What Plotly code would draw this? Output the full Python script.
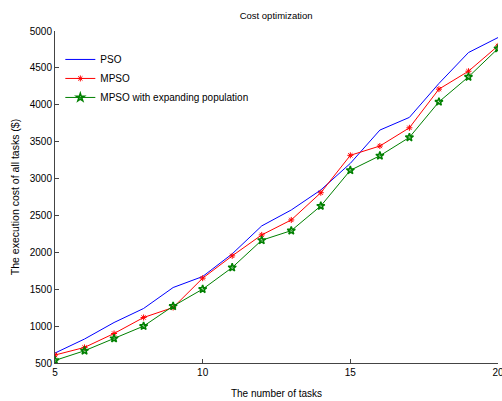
"""Cost optimization: execution cost of PSO variants vs number of tasks."""
import plotly.graph_objects as go

tasks = list(range(5, 21))
pso = [635, 825, 1049, 1239, 1523, 1672, 1979, 2358, 2574, 2845, 3206, 3657, 3829, 4289, 4708, 4911]
mpso = [608, 711, 900, 1117, 1252, 1650, 1952, 2236, 2439, 2808, 3315, 3441, 3688, 4212, 4455, 4798]
mpso_expand = [535, 666, 833, 1000, 1271, 1501, 1794, 2164, 2294, 2629, 3112, 3309, 3558, 4040, 4378, 4762]

x_ticks = [5, 10, 15, 20]
y_ticks = list(range(500, 5001, 500))

FONT = "Liberation Sans, Arial, sans-serif"

fig = go.Figure()
fig.add_trace(go.Scatter(
    x=tasks, y=pso, name="PSO", mode="lines",
    line=dict(color="#0000ff", width=1),
))
fig.add_trace(go.Scatter(
    x=tasks, y=mpso, name="MPSO", mode="lines+markers",
    line=dict(color="#ff0000", width=1),
    marker=dict(symbol="asterisk-open", size=5, color="#ff0000",
                line=dict(color="#ff0000", width=1)),
))
fig.add_trace(go.Scatter(
    x=tasks, y=mpso_expand, name="MPSO with expanding population", mode="lines+markers",
    line=dict(color="#008000", width=1),
    marker=dict(symbol="star-open", size=6, color="#008000",
                line=dict(color="#008000", width=1.5)),
))

axis_common = dict(
    showgrid=False, zeroline=False, showline=True, linecolor="#444444", linewidth=1,
    ticks="inside", ticklen=4, tickcolor="#444444",
    ticklabeloverflow="allow", automargin=False,
    tickfont=dict(family=FONT, size=10, color="#000000"),
)

fig.update_layout(
    width=502, height=401,
    paper_bgcolor="white", plot_bgcolor="white",
    margin=dict(l=55, r=4, t=31, b=38),
    title=dict(text="Cost optimization", x=0.55, xanchor="center", y=0.962, yanchor="middle",
               font=dict(family=FONT, size=9.5, color="#000000")),
    xaxis=dict(range=[5, 20], tickvals=x_ticks,
               title=dict(text="The number of tasks", standoff=12,
                          font=dict(family=FONT, size=10, color="#000000")),
               **axis_common),
    yaxis=dict(range=[500, 5000], tickvals=y_ticks,
               title=dict(text="The execution cost of all tasks ($)", standoff=8,
                          font=dict(family=FONT, size=10.5, color="#000000")),
               **axis_common),
    legend=dict(x=0.012, y=0.958, xanchor="left", yanchor="top",
                bgcolor="rgba(255,255,255,0)", borderwidth=0,
                font=dict(family=FONT, size=10, color="#000000"),
                tracegroupgap=0, itemwidth=30),
    showlegend=True,
)

fig.write_html("out.html", config={"displayModeBar": False},
               post_script="document.body.style.margin='0';")
